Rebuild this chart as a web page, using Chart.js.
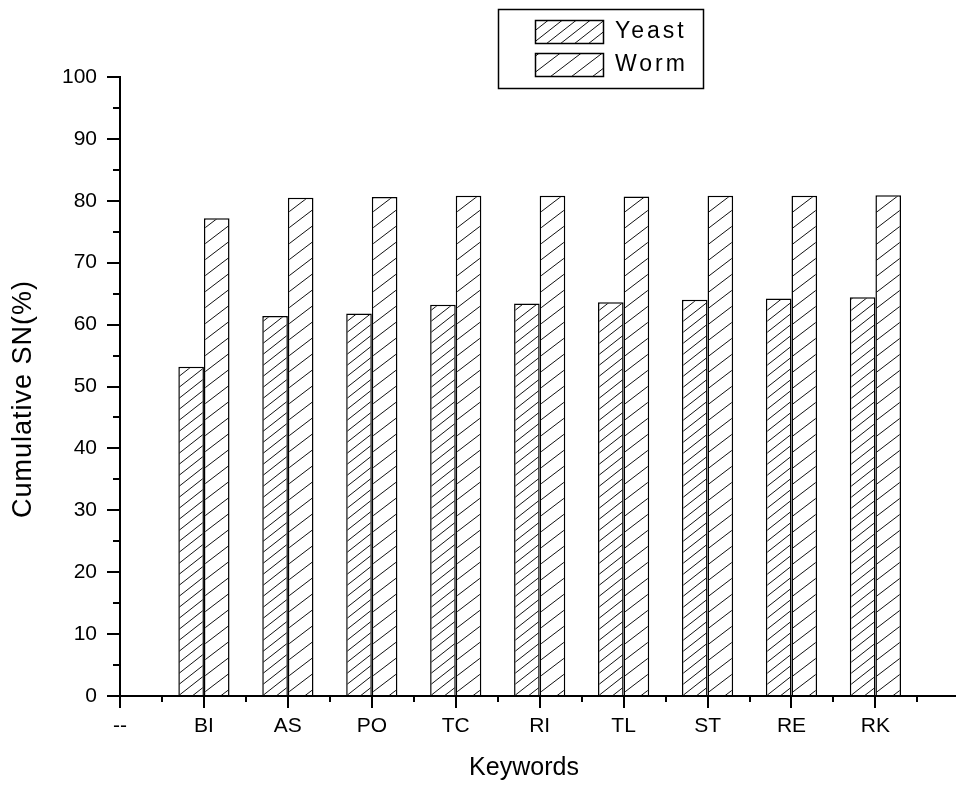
<!DOCTYPE html>
<html>
<head>
<meta charset="utf-8">
<title>Cumulative SN by keyword</title>
<script src="https://cdn.jsdelivr.net/npm/chart.js@4.4.1/dist/chart.umd.min.js"></script>
<style>
  html, body { margin: 0; padding: 0; background: #fff; overflow: hidden; }
  #wrap { width: 956px; height: 785px; position: relative; }
</style>
</head>
<body>
<div id="wrap"><canvas id="chart"></canvas></div>
<script>
'use strict';

// Keywords along the x axis ("--" is the empty baseline slot)
const categories = ['--', 'BI', 'AS', 'PO', 'TC', 'RI', 'TL', 'ST', 'RE', 'RK'];
const yeastSN = [null, 53.2, 61.4, 61.8, 63.2, 63.4, 63.6, 64.0, 64.2, 64.4];
const wormSN  = [null, 77.2, 80.5, 80.6, 80.8, 80.8, 80.7, 80.8, 80.8, 80.9];
const yTicks  = [0, 10, 20, 30, 40, 50, 60, 70, 80, 90, 100];

const FONT = "'Liberation Sans', Arial, Helvetica, sans-serif";
const canvas = document.getElementById('chart');
const ctx2d = canvas.getContext('2d');

// "/" hatch tile: one diagonal per tile, h = vertical line spacing
function hatch(w, h) {
    const c = document.createElement('canvas');
    c.width = w; c.height = h;
    const g = c.getContext('2d');
    g.fillStyle = '#fff';
    g.fillRect(0, 0, w, h);
    g.strokeStyle = '#111';
    g.lineWidth = 1;
    g.beginPath();
    [-h, 0, h].forEach(function (dy) {
        g.moveTo(-w, 2 * h + dy);
        g.lineTo(2 * w, -h + dy);
    });
    g.stroke();
    return ctx2d.createPattern(c, 'repeat');
}

const yeastFill = hatch(14, 11);
const wormFill = hatch(21, 16);

const toPoints = arr => arr.map((v, i) => v == null ? null : { x: i, y: v }).filter(Boolean);

// outward tick marks: category ticks + half-step minors on x, half-step minors on y
const axisTicks = {
    id: 'axisTicks',
    afterDraw(chart) {
        const { ctx, chartArea: a, scales: { x, y } } = chart;
        ctx.save();
        ctx.fillStyle = '#000';
        for (let i = 0; i < yTicks.length - 1; i++) {
            const py = Math.round(y.getPixelForValue((yTicks[i] + yTicks[i + 1]) / 2));
            ctx.fillRect(a.left - 7, py - 1, 7, 2);
        }
        x.ticks.forEach(function (t) {
            const px = Math.round(x.getPixelForValue(t.value));
            ctx.fillRect(px - 1, a.bottom, 2, 12);
            const mx = Math.round(x.getPixelForValue(t.value + 0.5));
            if (mx < a.right) ctx.fillRect(mx - 1, a.bottom, 2, 6);
        });
        ctx.restore();
    }
};

// axis titles and the boxed legend in the top area
const annotations = {
    id: 'annotations',
    afterDraw(chart) {
        const ctx = chart.ctx;
        ctx.save();
        ctx.fillStyle = '#000';
        ctx.textAlign = 'center';
        ctx.textBaseline = 'middle';

        ctx.save();
        ctx.translate(24, 399);
        ctx.rotate(-Math.PI / 2);
        ctx.font = '27px ' + FONT;
        ctx.letterSpacing = '1px';
        ctx.fillText('Cumulative SN(%)', 0, 0);
        ctx.restore();

        ctx.font = '25px ' + FONT;
        ctx.fillText('Keywords', 524, 768);

        // legend
        ctx.strokeStyle = '#000';
        ctx.lineWidth = 1.5;
        ctx.strokeRect(498.5, 9.5, 205, 79);
        const rows = chart.data.datasets.map((ds, i) => ({ ds, top: i === 0 ? 20 : 53 }));
        ctx.textAlign = 'left';
        ctx.font = '23px ' + FONT;
        ctx.letterSpacing = '3px';
        rows.forEach(function (r) {
            ctx.fillStyle = r.ds.backgroundColor;
            ctx.fillRect(535, r.top, 68, 23);
            ctx.strokeRect(535.5, r.top + 0.5, 68, 23);
            ctx.fillStyle = '#000';
            ctx.fillText(r.ds.label, 615, r.top + 12);
        });
        ctx.restore();
    }
};

new Chart(canvas, {
    type: 'bar',
    data: {
        datasets: [
            {
                label: 'Yeast',
                data: toPoints(yeastSN),
                backgroundColor: yeastFill,
                borderColor: '#000',
                borderWidth: 1.5
            },
            {
                label: 'Worm',
                data: toPoints(wormSN),
                backgroundColor: wormFill,
                borderColor: '#000',
                borderWidth: 1.5
            }
        ]
    },
    options: {
        responsive: true,
        maintainAspectRatio: false,
        animation: false,
        categoryPercentage: 0.61,
        barPercentage: 1,
        layout: { padding: { top: 77, right: 0, left: 0, bottom: 0 } },
        plugins: {
            legend: { display: false },
            tooltip: { enabled: false }
        },
        scales: {
            x: {
                type: 'linear',
                min: 0,
                max: 9.96,
                offset: false,
                afterBuildTicks: s => { s.ticks = categories.map((c, i) => ({ value: i })); },
                afterFit: s => { s.height = 89; },
                grid: { offset: false, drawOnChartArea: false, drawTicks: true, tickLength: 12, color: '#000', lineWidth: 2 },
                border: { display: true, color: '#000', width: 2 },
                ticks: {
                    autoSkip: false,
                    maxRotation: 0,
                    padding: 6,
                    color: '#000',
                    font: { family: FONT, size: 21 },
                    callback: v => categories[v] ?? ''
                }
            },
            y: {
                min: 0,
                max: 100,
                afterBuildTicks: s => { s.ticks = yTicks.map(v => ({ value: v })); },
                afterFit: s => { s.width = 120; },
                grid: { drawOnChartArea: false, drawTicks: true, tickLength: 13, color: '#000', lineWidth: 2 },
                border: { display: true, color: '#000', width: 2 },
                ticks: {
                    padding: 10,
                    color: '#000',
                    font: { family: FONT, size: 21 }
                }
            }
        }
    },
    plugins: [axisTicks, annotations]
});
</script>
</body>
</html>
